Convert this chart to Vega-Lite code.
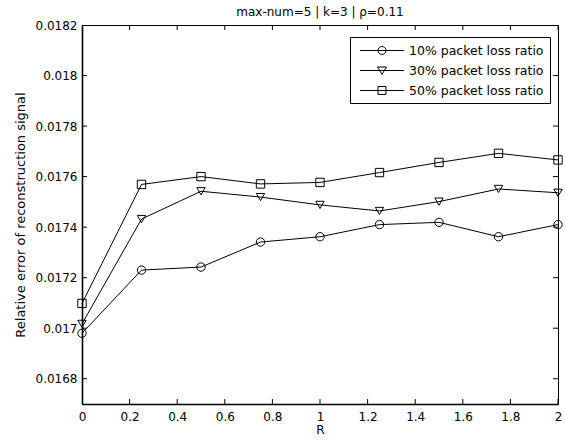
{
  "$schema": "https://vega.github.io/schema/vega-lite/v6.json",
  "autosize": "none",
  "padding": {"left": 82, "top": 25, "right": 8, "bottom": 40},
  "width": 476,
  "height": 379,
  "background": "white",
  "title": {"text": "max-num=5 | k=3 | ρ=0.11", "fontSize": 12, "fontWeight": "normal", "font": "DejaVu Sans", "offset": 4, "dy": 4, "color": "black"},
  "config": {
    "font": "DejaVu Sans",
    "view": {"stroke": "black", "strokeWidth": 1},
    "axis": {"domain": true, "domainColor": "black", "domainWidth": 1.6, "labelColor": "black", "titleColor": "black", "labelFontSize": 12, "titleFontSize": 13, "titleFontWeight": "normal", "grid": false, "ticks": false}
  },
  "datasets": {
    "main": [
      {"R": 0, "v": 0.01698, "s": "10% packet loss ratio"},
      {"R": 0.25, "v": 0.01723, "s": "10% packet loss ratio"},
      {"R": 0.5, "v": 0.017242, "s": "10% packet loss ratio"},
      {"R": 0.75, "v": 0.017341, "s": "10% packet loss ratio"},
      {"R": 1, "v": 0.017362, "s": "10% packet loss ratio"},
      {"R": 1.25, "v": 0.01741, "s": "10% packet loss ratio"},
      {"R": 1.5, "v": 0.017419, "s": "10% packet loss ratio"},
      {"R": 1.75, "v": 0.017362, "s": "10% packet loss ratio"},
      {"R": 2, "v": 0.01741, "s": "10% packet loss ratio"},
      {"R": 0, "v": 0.017017, "s": "30% packet loss ratio"},
      {"R": 0.25, "v": 0.017432, "s": "30% packet loss ratio"},
      {"R": 0.5, "v": 0.017542, "s": "30% packet loss ratio"},
      {"R": 0.75, "v": 0.017519, "s": "30% packet loss ratio"},
      {"R": 1, "v": 0.017488, "s": "30% packet loss ratio"},
      {"R": 1.25, "v": 0.017464, "s": "30% packet loss ratio"},
      {"R": 1.5, "v": 0.017501, "s": "30% packet loss ratio"},
      {"R": 1.75, "v": 0.017551, "s": "30% packet loss ratio"},
      {"R": 2, "v": 0.017536, "s": "30% packet loss ratio"},
      {"R": 0, "v": 0.017098, "s": "50% packet loss ratio"},
      {"R": 0.25, "v": 0.017569, "s": "50% packet loss ratio"},
      {"R": 0.5, "v": 0.0176, "s": "50% packet loss ratio"},
      {"R": 0.75, "v": 0.017571, "s": "50% packet loss ratio"},
      {"R": 1, "v": 0.017577, "s": "50% packet loss ratio"},
      {"R": 1.25, "v": 0.017616, "s": "50% packet loss ratio"},
      {"R": 1.5, "v": 0.017656, "s": "50% packet loss ratio"},
      {"R": 1.75, "v": 0.017692, "s": "50% packet loss ratio"},
      {"R": 2, "v": 0.017666, "s": "50% packet loss ratio"}
    ],
    "xt": [{"t": 0}, {"t": 0.2}, {"t": 0.4}, {"t": 0.6}, {"t": 0.8}, {"t": 1}, {"t": 1.2}, {"t": 1.4}, {"t": 1.6}, {"t": 1.8}, {"t": 2}],
    "yt": [{"t": 0.0168}, {"t": 0.017}, {"t": 0.0172}, {"t": 0.0174}, {"t": 0.0176}, {"t": 0.0178}, {"t": 0.018}, {"t": 0.0182}]
  },
  "layer": [
    {
      "data": {"name": "main"},
      "mark": {"type": "line", "color": "black", "strokeWidth": 1},
      "encoding": {
        "x": {"field": "R", "type": "quantitative", "scale": {"domain": [0, 2], "nice": false}, "title": "R", "axis": {"values": [0, 0.2, 0.4, 0.6, 0.8, 1, 1.2, 1.4, 1.6, 1.8, 2], "format": ".1~f", "labelPadding": 7, "titlePadding": 2, "labelFlush": false, "titleFontSize": 12}},
        "y": {"field": "v", "type": "quantitative", "scale": {"domain": [0.0167, 0.0182], "nice": false, "zero": false}, "title": "Relative error of reconstruction signal", "axis": {"values": [0.0168, 0.017, 0.0172, 0.0174, 0.0176, 0.0178, 0.018, 0.0182], "labelPadding": 5, "titlePadding": 8, "labelExpr": "replace(format(datum.value, '.4~f'), /0+$/, '')"}},
        "detail": {"field": "s"}
      }
    },
    {
      "data": {"name": "xt"},
      "mark": {"type": "tick", "orient": "vertical", "size": 10, "thickness": 1, "color": "black", "clip": true, "opacity": 1},
      "encoding": {"x": {"field": "t", "type": "quantitative"}, "y": {"datum": 0.0167, "type": "quantitative"}}
    },
    {
      "data": {"name": "xt"},
      "mark": {"type": "tick", "orient": "vertical", "size": 10, "thickness": 1, "color": "black", "clip": true, "opacity": 1},
      "encoding": {"x": {"field": "t", "type": "quantitative"}, "y": {"datum": 0.0182, "type": "quantitative"}}
    },
    {
      "data": {"name": "yt"},
      "mark": {"type": "tick", "orient": "horizontal", "size": 10, "thickness": 1, "color": "black", "clip": true, "opacity": 1},
      "encoding": {"y": {"field": "t", "type": "quantitative"}, "x": {"datum": 0, "type": "quantitative"}}
    },
    {
      "data": {"name": "yt"},
      "mark": {"type": "tick", "orient": "horizontal", "size": 10, "thickness": 1, "color": "black", "clip": true, "opacity": 1},
      "encoding": {"y": {"field": "t", "type": "quantitative"}, "x": {"datum": 2, "type": "quantitative"}}
    },
    {
      "data": {"name": "main"},
      "mark": {"type": "point", "filled": false, "color": "black", "opacity": 0},
      "encoding": {
        "x": {"field": "R", "type": "quantitative"},
        "y": {"field": "v", "type": "quantitative"},
        "shape": {"field": "s", "type": "nominal", "title": null,
          "scale": {"range": [
            "M-0.5,0H5.79M3.21,0A0.57,0.57 0 1,1 2.07,0A0.57,0.57 0 1,1 3.21,0",
            "M-0.5,0H5.79M2.0,-0.5L3.28,-0.5L2.64,0.57Z",
            "M-0.5,0H5.79M2.07,-0.57H3.21V0.57H2.07Z"
          ]},
          "legend": {"orient": "none", "legendX": 268, "legendY": 12, "symbolSize": 196, "symbolStrokeColor": "black", "symbolFillColor": "transparent", "symbolOpacity": 1, "symbolStrokeWidth": 1, "labelFontSize": 12.5, "labelColor": "black", "strokeColor": "black", "fillColor": "white", "padding": 6, "rowPadding": 6, "labelOffset": 38}
        }
      }
    },
    {
      "data": {"name": "main"},
      "mark": {"type": "point", "filled": false, "color": "black", "strokeWidth": 1, "opacity": 1},
      "encoding": {
        "x": {"field": "R", "type": "quantitative"},
        "y": {"field": "v", "type": "quantitative"},
        "shape": {"field": "s", "type": "nominal", "scale": {"range": ["circle", "triangle-down", "square"]}, "legend": null},
        "size": {"value": 70}
      }
    }
  ],
  "resolve": {"scale": {"shape": "independent"}}
}
